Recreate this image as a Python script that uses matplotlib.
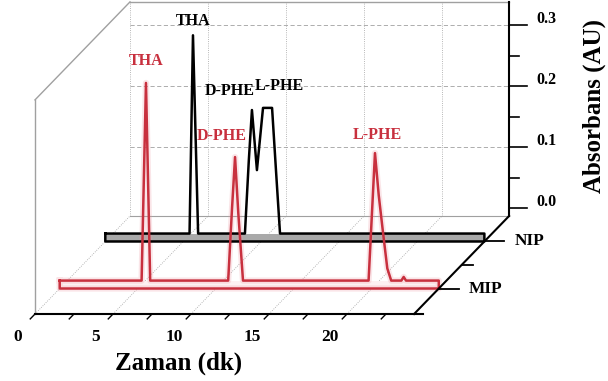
import numpy as np
import matplotlib.pyplot as plt

# chromatograms (time in dk, absorbance in AU)
mip_time = [0.0, 5.25, 5.53, 5.8, 10.8, 11.05, 11.24, 11.45, 11.75,
            19.8, 20.21, 20.45, 20.72, 21.0, 21.25, 21.9, 22.05, 22.2, 24.3]
mip_abs = [0.0, 0.0, 0.324, 0.0, 0.0, 0.12, 0.2025, 0.11, 0.0,
           0.0, 0.209, 0.14, 0.08, 0.02, 0.0, 0.0, 0.006, 0.0, 0.0]

nip_time = [0.0, 5.4, 5.62, 5.95, 8.95, 9.2, 9.4, 9.72, 10.11, 10.69, 10.95, 11.2, 24.3]
nip_abs = [0.0, 0.0, 0.325, 0.0, 0.0, 0.12, 0.2025, 0.104, 0.206, 0.206, 0.1, 0.0, 0.0]

mip_peaks = ["THA", "D-PHE", "L-PHE"]
mip_peak_time = [5.53, 11.24, 20.21]
nip_peaks = ["THA", "D-PHE", "L-PHE"]
nip_peak_time = [5.62, 9.4, 10.4]

series = ["MIP", "NIP"]
series_depth = [0.26, 0.74]

x_ticks = [0, 5, 10, 15, 20]
z_ticks = [0.0, 0.1, 0.2, 0.3]

T_MAX = 24.3
Z0 = -0.013
Z_MAX = 0.338

# oblique projection: pixels per unit
PX_T = 15.6
PX_Z = 610.0
DX = 95 / PX_T
DZ = 98 / PX_Z

RED = "#c8303e"
GRAY = "#a0a0a0"


def proj(t, d, z):
    t = np.asarray(t, float)
    d = np.asarray(d, float)
    z = np.asarray(z, float)
    return t + d * DX, z + d * DZ


def seg(p0, p1, **kw):
    x, y = proj([p0[0], p1[0]], [p0[1], p1[1]], [p0[2], p1[2]])
    ax.plot(x, y, **kw)


def trace(t, a, d, color, band, halo=None):
    t = np.asarray(t, float)
    a = np.asarray(a, float)
    bx, btop = proj([t[0], t[-1]], d, [0, 0])
    _, bbot = proj([t[0], t[-1]], d, [Z0, Z0])
    ax.fill_between(bx, bbot, btop, color=band, lw=0, zorder=3)
    pt = np.concatenate([t, [t[-1], t[0], t[0]]])
    pz = np.concatenate([a, [Z0, Z0, a[0]]])
    x, y = proj(pt, d, pz)
    if halo:
        ax.plot(x, y, color=halo, lw=4.5, alpha=0.25, zorder=3)
    ax.plot(x, y, color=color, lw=1.8, zorder=4)


plt.rcParams["font.family"] = ["Liberation Serif", "DejaVu Serif"]
plt.rcParams["font.weight"] = "bold"

fig = plt.figure(figsize=(6.08, 3.81), dpi=100)
ax = fig.add_axes([0, 0, 1, 1])
ax.set_xlim(-35 / PX_T, (608 - 35) / PX_T)
ax.set_ylim(Z0 - 67 / PX_Z, Z0 + 314 / PX_Z)
ax.axis("off")

# walls and grid
for t in x_ticks:
    seg((t, 1, Z0), (t, 1, Z_MAX), color=GRAY, lw=0.6, ls=":")
    if t > 0:
        seg((t, 0, Z0), (t, 1, Z0), color=GRAY, lw=0.6, ls=":")
for z in z_ticks[1:]:
    seg((0, 1, z), (T_MAX, 1, z), color=GRAY, lw=0.6, ls=(0, (5, 3)))
seg((0, 0, Z0), (0, 1, Z0), color=GRAY, lw=0.6, ls=":")
seg((0, 1, Z0), (T_MAX, 1, Z0), color=GRAY, lw=0.8)
seg((0, 0, Z0), (0, 0, Z_MAX), color=GRAY, lw=1.0)
seg((0, 0, Z_MAX), (0, 1, Z_MAX), color=GRAY, lw=1.0)
seg((0, 1, Z_MAX), (T_MAX, 1, Z_MAX), color=GRAY, lw=1.0)

# traces, back one first
trace(nip_time, nip_abs, series_depth[1], "black", "#a9a9a9")
trace(mip_time, mip_abs, series_depth[0], RED, "#fdf0f1", halo="#ee9aa4")

# peak labels
nip_off = [(0, 14), (-22, 19), (12, 22)]
for name, pt, off in zip(nip_peaks, nip_peak_time, nip_off):
    x, y = proj(pt, series_depth[1], np.interp(pt, nip_time, nip_abs))
    ax.annotate(name, (x, y), xytext=off, textcoords="offset pixels",
                ha="center", va="center", fontsize=11.5, color="black", zorder=6)
mip_off = [(0, 22), (-13, 21), (2, 18)]
for name, pt, off in zip(mip_peaks, mip_peak_time, mip_off):
    x, y = proj(pt, series_depth[0], np.interp(pt, mip_time, mip_abs))
    ax.annotate(name, (x, y), xytext=off, textcoords="offset pixels",
                ha="center", va="center", fontsize=11.5, color=RED, zorder=6)

# front time axis
seg((0, 0, Z0), (T_MAX + 0.6, 0, Z0), color="black", lw=1.5, zorder=5)
for t in np.arange(0, T_MAX, 2.5):
    seg((t, 0, Z0), (t, -0.05, Z0), color="black", lw=1.0, zorder=5)
for t in x_ticks:
    x, y = proj(t, 0, Z0)
    ax.annotate(str(t), (x, y), xytext=(-17, -23), textcoords="offset pixels",
                ha="center", va="center", fontsize=12.5)

# depth axis
seg((T_MAX, 0, Z0), (T_MAX, 1, Z0), color="black", lw=1.5, zorder=5)
for name, d in zip(series, series_depth):
    seg((T_MAX, d, Z0), (T_MAX + 20 / PX_T, d, Z0), color="black", lw=1.3, zorder=5)
    x, y = proj(T_MAX, d, Z0)
    ax.annotate(name, (x, y), xytext=(30, 0), textcoords="offset pixels",
                ha="left", va="center", fontsize=12.5)
mid = np.mean(series_depth)
seg((T_MAX, mid, Z0), (T_MAX + 11 / PX_T, mid, Z0), color="black", lw=1.3, zorder=5)

# absorbance axis on the back wall
seg((T_MAX, 1, Z0), (T_MAX, 1, Z_MAX), color="black", lw=1.5, zorder=5)
for z in np.arange(0, 0.31, 0.05):
    major = round(z * 20) % 2 == 0
    length = 18 if major else 10
    seg((T_MAX, 1, z), (T_MAX + length / PX_T, 1, z), color="black", lw=1.2, zorder=5)
for z in z_ticks:
    x, y = proj(T_MAX, 1, z)
    ax.annotate(f"{z:.1f}", (x, y), xytext=(27, 6), textcoords="offset pixels",
                ha="left", va="center", fontsize=11.5)

fig.text(179 / 608, 1 - 363 / 381, "Zaman (dk)", ha="center", va="center", fontsize=18)
fig.text(594 / 608, 1 - 106 / 381, "Absorbans (AU)", ha="center", va="center",
         fontsize=18, rotation=90)

fig.savefig("out.png", dpi=100)
